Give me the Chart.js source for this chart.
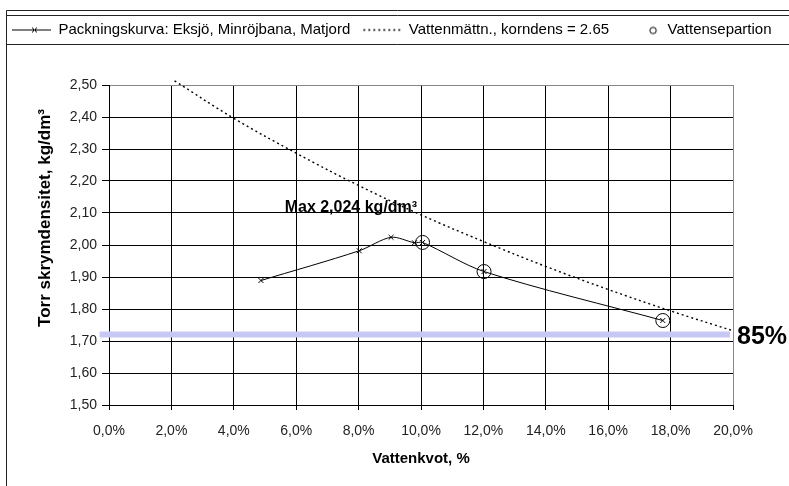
<!DOCTYPE html>
<html>
<head>
<meta charset="utf-8">
<script src="https://cdn.jsdelivr.net/npm/chart.js@4.4.1/dist/chart.umd.min.js"></script>
<style>
  html, body { margin: 0; padding: 0; background: #fff; }
  #wrap { width: 789px; height: 486px; position: relative; }
</style>
</head>
<body>
<div id="wrap"><canvas id="c" width="789" height="486"></canvas></div>
<script>
// ---- data ----
const packWater   = [4.87, 8.02, 9.04, 9.79, 10.05, 12.02, 17.75];   // Vattenkvot, %
const packDensity = [1.889, 1.982, 2.024, 2.007, 2.008, 1.917, 1.764]; // kg/dm3

const satWater    = [2.1, 4, 6, 8, 10, 12, 14, 16, 18, 20];
const satDensity  = [2.513, 2.396, 2.287, 2.186, 2.094, 2.011, 1.933, 1.861, 1.794, 1.732];

const sepWater    = [10.05, 12.02, 17.75];
const sepDensity  = [2.008, 1.917, 1.764];

const bandWater   = [-0.3, 19.9];
const bandLevel   = 1.72;   // 85 % of max
const bandLabel   = "85%";

const maxLabel    = "Max 2,024 kg/dm³";
const maxLabelPos = [5.63, 2.117];

const legendTexts = [
  "Packningskurva: Eksjö, Minröjbana, Matjord",
  "Vattenmättn., korndens = 2.65",
  "Vattensepartion"
];
const xTitle = "Vattenkvot, %";
const yTitle = "Torr skrymdensitet, kg/dm³";

const xMin = 0, xMax = 20, xStep = 2;
const yMin = 1.5, yMax = 2.5, yStep = 0.1;

// ---- legend sample images ----
function sample(kind) {
  const c = document.createElement('canvas');
  c.width = 44; c.height = 12;
  const g = c.getContext('2d');
  g.strokeStyle = '#000';
  g.lineWidth = 1;
  if (kind === 0) {
    g.beginPath(); g.moveTo(5, 6.5); g.lineTo(44, 6.5); g.stroke();
    g.beginPath(); g.moveTo(25, 4); g.lineTo(30, 9); g.moveTo(30, 4); g.lineTo(25, 9); g.stroke();
  } else if (kind === 1) {
    g.setLineDash([2, 3]); g.lineWidth = 1.3;
    g.beginPath(); g.moveTo(6, 6.5); g.lineTo(44, 6.5); g.stroke();
  } else {
    g.beginPath(); g.arc(37, 7, 3.2, 0, Math.PI * 2); g.stroke();
  }
  return c;
}
const samples = [sample(0), sample(1), sample(2)];

const toPts = (xs, ys) => xs.map((x, i) => ({ x: x, y: ys[i] }));
const fmt = v => v.toFixed(1).replace('.', ',') + '%';
const fmtY = v => v.toFixed(2).replace('.', ',');

const framePlugin = {
  id: 'frame',
  beforeInit(chart) {
    const orig = chart.legend.fit;
    chart.legend.fit = function () { orig.call(this); this.height = 70; };
  },
  afterDraw(chart) {
    const g = chart.ctx, W = chart.width, H = chart.height;
    const lg = chart.legend;
    g.save();
    g.strokeStyle = '#222';
    g.lineWidth = 1;
    g.beginPath();
    g.moveTo(6.5, 10.5); g.lineTo(W, 10.5);
    g.moveTo(6.5, 10.5); g.lineTo(6.5, H);
    g.moveTo(6.5, lg.top + 0.5); g.lineTo(W, lg.top + 0.5);
    g.moveTo(6.5, lg.top + 29.5); g.lineTo(W, lg.top + 29.5);
    g.stroke();
    g.restore();
  }
};

const annotPlugin = {
  id: 'annot',
  afterDatasetsDraw(chart) {
    const g = chart.ctx, xs = chart.scales.x, ys = chart.scales.y;
    g.save();
    g.fillStyle = '#000';
    g.textBaseline = 'middle';
    g.textAlign = 'left';
    g.font = 'bold 16px "Liberation Sans", Arial, sans-serif';
    g.fillText(maxLabel, xs.getPixelForValue(maxLabelPos[0]), ys.getPixelForValue(maxLabelPos[1]));
    g.font = 'bold 25px "Liberation Sans", Arial, sans-serif';
    g.fillText(bandLabel, xs.getPixelForValue(xMax) + 4, ys.getPixelForValue(bandLevel) + 3);
    // y-axis title (placed as in the reference, slightly above plot centre)
    g.translate(ys.left + 45, (ys.top + ys.bottom) / 2 - 27);
    g.rotate(-Math.PI / 2);
    g.textAlign = 'center';
    g.font = 'bold 17px "Liberation Sans", Arial, sans-serif';
    g.fillText(yTitle, 0, 0);
    g.restore();
  }
};

Chart.defaults.font.family = '"Liberation Sans", Arial, sans-serif';
Chart.defaults.color = '#000';

new Chart(document.getElementById('c'), {
  type: 'scatter',
  data: {
    datasets: [
      {
        label: 'band',
        data: toPts(bandWater, [bandLevel, bandLevel]),
        showLine: true,
        borderColor: 'rgb(200,200,245)',
        borderWidth: 6,
        pointRadius: 0,
        clip: false,
        order: 5
      },
      {
        label: legendTexts[1],
        data: toPts(satWater, satDensity),
        showLine: true,
        borderColor: '#000',
        borderWidth: 1.4,
        borderDash: [2, 3],
        tension: 0.4,
        pointRadius: 0,
        clip: false,
        order: 3
      },
      {
        label: legendTexts[0],
        data: toPts(packWater, packDensity),
        showLine: true,
        borderColor: '#000',
        borderWidth: 1,
        tension: 0.3,
        pointStyle: 'crossRot',
        pointRadius: 3.5,
        pointBorderColor: '#000',
        pointBorderWidth: 1,
        order: 2
      },
      {
        label: legendTexts[2],
        data: toPts(sepWater, sepDensity),
        showLine: false,
        pointStyle: 'circle',
        pointRadius: 7,
        pointBackgroundColor: 'rgba(0,0,0,0)',
        pointBorderColor: '#000',
        pointBorderWidth: 1,
        order: 1
      }
    ]
  },
  options: {
    responsive: false,
    animation: false,
    layout: { padding: { top: 15, right: 0, bottom: 14, left: 0 } },
    plugins: {
      tooltip: { enabled: false },
      legend: {
        position: 'top',
        align: 'start',
        labels: {
          usePointStyle: true,
          pointStyleWidth: 44,
          padding: 7,
          font: { size: 15 },
          color: '#000',
          generateLabels: () => legendTexts.map((t, i) => ({
            text: t, pointStyle: samples[i], hidden: false, lineWidth: 0,
            strokeStyle: 'rgba(0,0,0,0)', fillStyle: 'rgba(0,0,0,0)', datasetIndex: i + 1
          }))
        }
      }
    },
    scales: {
      x: {
        type: 'linear',
        min: xMin, max: xMax,
        afterFit(s) { s.height = 67; },
        ticks: {
          stepSize: xStep,
          callback: v => fmt(v),
          font: { size: 14 },
          color: '#222',
          padding: 13,
          maxRotation: 0
        },
        grid: {
          color: c => (c.tick && c.tick.value === xMax) ? '#888' : '#000',
          tickColor: '#000',
          tickLength: 5,
          lineWidth: 1
        },
        border: { color: '#000', width: 1 },
        title: {
          display: true, text: xTitle,
          font: { size: 15, weight: 'bold' },
          padding: { top: 4, bottom: 4 }
        }
      },
      y: {
        type: 'linear',
        min: yMin, max: yMax,
        afterFit(s) { s.width = 109; },
        ticks: {
          stepSize: yStep,
          callback: v => fmtY(v),
          font: { size: 14 },
          color: '#222',
          padding: 5
        },
        grid: {
          color: c => (c.tick && Math.abs(c.tick.value - yMax) < 1e-6) ? '#888' : '#000',
          tickColor: '#000',
          tickLength: 7,
          lineWidth: 1
        },
        border: { color: '#000', width: 1 },
        title: { display: false, text: yTitle }
      },
      yRight: {
        type: 'linear',
        position: 'right',
        display: true,
        min: yMin, max: yMax,
        afterFit(s) { s.width = 56; },
        ticks: { display: false },
        grid: { display: false, drawTicks: false },
        border: { display: false }
      }
    }
  },
  plugins: [framePlugin, annotPlugin]
});
</script>
</body>
</html>
